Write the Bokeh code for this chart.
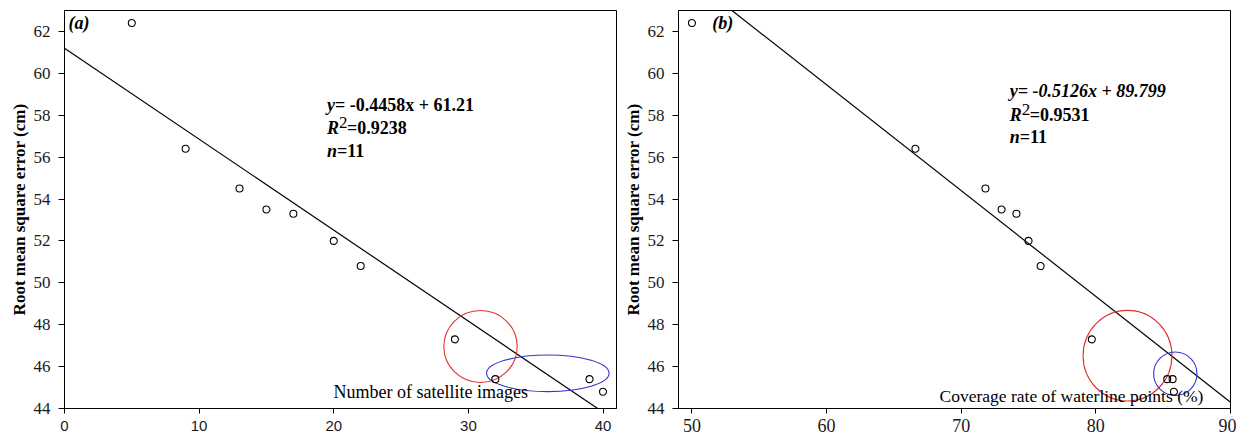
from bokeh.plotting import figure
from bokeh.models import Range1d, FixedTicker, Label
from bokeh.layouts import row
from bokeh.embed import file_html
from bokeh.resources import INLINE

# ---------------- data ----------------
n_images = [5, 9, 13, 15, 17, 20, 22, 29, 32, 39, 40]
coverage = [50.0, 66.6, 71.8, 73.0, 74.1, 75.0, 75.9, 79.7, 85.3, 85.7, 85.8]
rmse = [62.4, 56.4, 54.5, 53.5, 53.3, 52.0, 50.8, 47.3, 45.4, 45.4, 44.8]

fit_a_x = [0.0, 39.6]
fit_a_y = [61.2, 44.0]
fit_b_x = [52.97, 90.0]
fit_b_y = [63.0, 44.3]

# highlight ellipses: center x, center y, width, height (data units)
ell_a_x = [30.9, 35.9]
ell_a_y = [46.96, 45.68]
ell_a_w = [5.45, 9.1]
ell_a_h = [3.44, 1.75]
ell_b_x = [82.35, 85.9]
ell_b_y = [46.52, 45.66]
ell_b_w = [6.6, 3.22]
ell_b_h = [4.33, 2.07]
ell_colors = ["#e0302c", "#3434d0"]

y_ticks = [44, 46, 48, 50, 52, 54, 56, 58, 60, 62]
x_ticks_a = [0, 10, 20, 30, 40]
x_ticks_b = [50, 60, 70, 80, 90]

SERIF = "Liberation Serif"
SANS = "Liberation Sans"


def make_fig(width, left, xr, xticks, xfont, xsize, xstand):
    p = figure(width=width, height=438, output_backend="svg", toolbar_location=None,
               x_range=Range1d(*xr), y_range=Range1d(44, 63),
               min_border_left=left, min_border_right=width - left - 552,
               min_border_top=10, min_border_bottom=30)
    p.grid.visible = False
    p.outline_line_color = "black"
    p.outline_line_width = 1
    p.background_fill_color = "white"
    p.border_fill_color = "white"
    p.yaxis.ticker = FixedTicker(ticks=y_ticks)
    p.xaxis.ticker = FixedTicker(ticks=xticks)
    for ax in (p.xaxis[0], p.yaxis[0]):
        ax.axis_line_color = "black"
        ax.major_tick_line_color = "black"
        ax.major_tick_in = 0
        ax.minor_tick_line_color = None
    p.yaxis.major_tick_out = 6
    p.yaxis.major_label_standoff = 8
    p.yaxis.major_label_text_font = SERIF
    p.yaxis.major_label_text_font_size = "17px"
    p.yaxis.major_label_text_color = "#1a1a1a"
    p.yaxis.axis_label = "Root mean square error (cm)"
    p.yaxis.axis_label_text_font = SERIF
    p.yaxis.axis_label_text_font_style = "bold"
    p.yaxis.axis_label_text_font_size = "17px"
    p.yaxis.axis_label_text_color = "black"
    p.yaxis.axis_label_standoff = 2
    p.xaxis.major_tick_out = 5
    p.xaxis.major_label_standoff = xstand
    p.xaxis.major_label_text_font = xfont
    p.xaxis.major_label_text_font_size = xsize
    p.xaxis.major_label_text_color = "#1a1a1a"
    return p


def lab(p, x, y, text, style="bold", size="18px", dx=0, dy=0, align="left", base="middle"):
    p.add_layout(Label(x=x, y=y, text=text, x_offset=dx, y_offset=dy,
                       text_font=SERIF, text_font_style=style, text_font_size=size,
                       text_align=align, text_baseline=base, text_color="black"))


# ---------------- panel (a) ----------------
p1 = make_fig(620, 64, (0, 41), x_ticks_a, SANS, "15px", 7)
p1.line(fit_a_x, fit_a_y, line_color="black", line_width=1.2)
p1.ellipse(ell_a_x, ell_a_y, width=ell_a_w, height=ell_a_h, fill_color=None,
           line_color=ell_colors, line_width=1.1)
p1.scatter(n_images, rmse, marker="circle", size=7, fill_color=None,
           line_color="black", line_width=1.1)

lab(p1, 0.3, 62.38, "(a)", style="bold italic")
lab(p1, 19.5, 58.51, "y", style="bold italic")
lab(p1, 19.5, 58.51, "= -0.4458x + 61.21", dx=8)
lab(p1, 19.5, 57.37, "R", style="bold italic")
lab(p1, 19.5, 57.37, "2", style="normal", size="17px", dx=12, dy=6)
lab(p1, 19.5, 57.37, "=0.9238", dx=20)
lab(p1, 19.5, 56.27, "n", style="bold italic")
lab(p1, 19.5, 56.27, "=11", dx=10)
lab(p1, 27.2, 44.8, "Number of satellite images", style="normal", size="18px",
    align="center", base="alphabetic")

# ---------------- panel (b) ----------------
p2 = make_fig(616, 58, (49, 90), x_ticks_b, SERIF, "18px", 5)
p2.line(fit_b_x, fit_b_y, line_color="black", line_width=1.2)
p2.ellipse(ell_b_x, ell_b_y, width=ell_b_w, height=ell_b_h, fill_color=None,
           line_color=ell_colors, line_width=1.1)
p2.scatter(coverage, rmse, marker="circle", size=7, fill_color=None,
           line_color="black", line_width=1.1)

lab(p2, 51.5, 62.38, "(b)", style="bold italic")
lab(p2, 73.6, 59.18, "y= -0.5126x + 89.799", style="bold italic")
lab(p2, 73.6, 57.99, "R", style="bold italic")
lab(p2, 73.6, 57.99, "2", style="normal", size="17px", dx=12, dy=6)
lab(p2, 73.6, 57.99, "=0.9531", dx=20)
lab(p2, 73.6, 56.94, "n", style="bold italic")
lab(p2, 73.6, 56.94, "=11", dx=10)
lab(p2, 78.35, 44.6, "Coverage rate of waterline points  (%)", style="normal", size="17.5px",
    align="center", base="alphabetic")

layout = row(p1, p2)
open("out.html", "w").write(file_html(layout, INLINE))
